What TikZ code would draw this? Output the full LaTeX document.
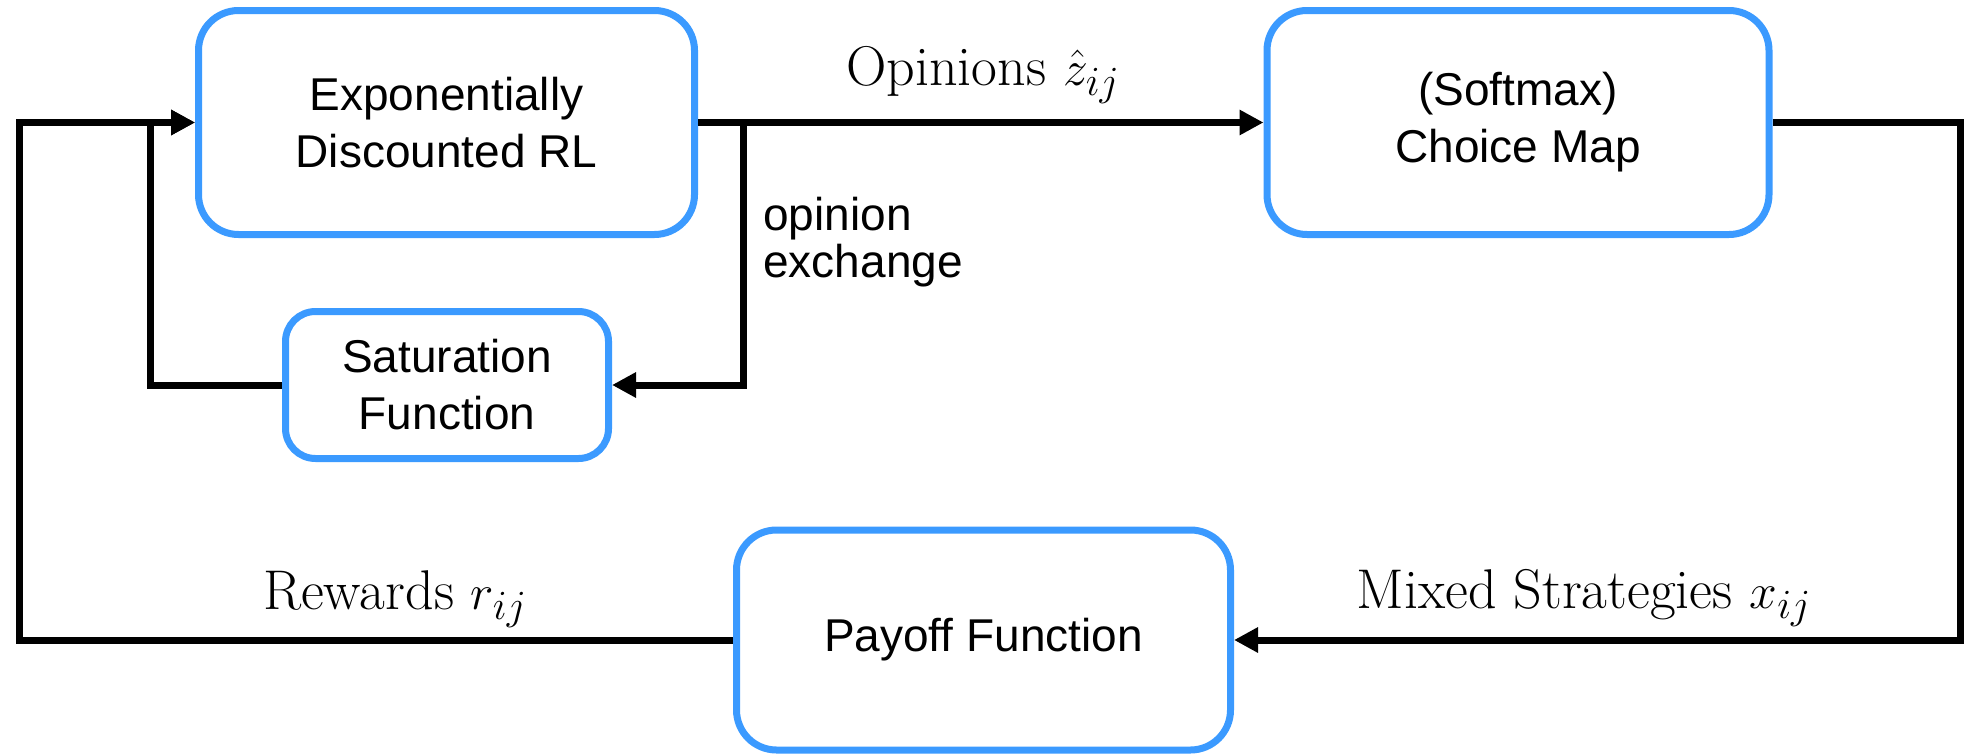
\documentclass[tikz,border=0pt]{standalone}
\usepackage{fontspec}
\newfontfamily\boxfont{Liberation Sans}
\usetikzlibrary{arrows.meta}
\definecolor{boxblue}{RGB}{59,154,255}
\begin{document}
\begin{tikzpicture}[x=0.5pt,y=-0.5pt,
  block/.style={draw=boxblue, fill=white, line width=3.5pt, rounded corners=20pt,
    align=center, inner sep=0pt, font=\boxfont\fontsize{23}{28.5}\selectfont},
  wire/.style={line width=3.5pt},
  arr/.style={wire, -{Triangle[length=12pt,width=12pt]}},
  lbl/.style={font=\fontsize{28}{34}\selectfont, inner sep=0pt, anchor=base}]
\useasboundingbox (0,0) rectangle (1964,755);

% blocks
\node[block, minimum width=248pt, minimum height=112pt] (rl) at (446.5,122.5)
  {Exponentially\\Discounted RL};
\node[block, minimum width=251pt, minimum height=112pt] (cm) at (1518,122.5)
  {(Softmax)\\Choice Map};
\node[block, rounded corners=15pt, minimum width=161.5pt, minimum height=73.5pt] (sat) at (447,385)
  {Saturation\\Function};
\node[block, minimum width=247pt, minimum height=110pt] (pay) at (983.5,640)
  {Payoff Function};

% routing columns
\coordinate (split) at (743,0);
\coordinate (inner) at (150,0);
\coordinate (outerL) at (19,0);
\coordinate (outerR) at (1960,0);

% connectors
\draw[arr] (rl.east) -- (cm.west);
\draw[arr] (split |- rl.east) -- (split |- sat.east) -- (sat.east);
\draw[arr] (sat.west) -- (inner |- sat.west) -- (inner |- rl.west) -- (rl.west);
\draw[arr] (cm.east) -- (outerR |- cm.east) -- (outerR |- pay.east) -- (pay.east);
\draw[arr] (pay.west) -- (outerL |- pay.west) -- (outerL |- rl.west) -- (rl.west);

% labels
\node[lbl] (opl) at (983,85) {Opinions $\hat{z}_{ij}$};
\node[lbl] (rwl) at (395,609) {Rewards $r_{ij}$};
\node[lbl] (msl) at (1584,608) {Mixed Strategies $x_{ij}$};
\node[font=\boxfont\fontsize{23}{23.5}\selectfont, align=left, inner sep=0pt,
  anchor=base west] (oxl) at (763,277) {opinion\\exchange};
\end{tikzpicture}
\end{document}
